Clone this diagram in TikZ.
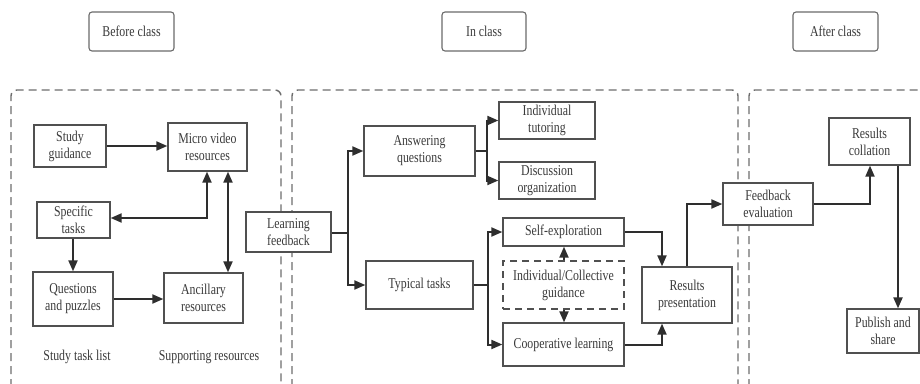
\documentclass[tikz,border=0pt]{standalone}
\usepackage{fontspec}
\setmainfont{Liberation Serif}[FakeStretch=0.79]
\usetikzlibrary{arrows.meta}
\definecolor{txt}{HTML}{3A3A3A}
\definecolor{boxc}{HTML}{505050}
\definecolor{arr}{HTML}{2E2E2E}
\definecolor{dashc}{HTML}{6E6E6E}
\tikzset{
  box/.style={draw=boxc, line width=1.3pt, fill=white, text=txt, align=center,
    inner sep=0pt, font=\fontsize{15}{17}\selectfont},
  hdr/.style={box, rounded corners=3pt, draw=boxc!85, line width=1.1pt},
  dbox/.style={box, dashed, dash pattern=on 7pt off 5pt},
  lbl/.style={text=txt, font=\fontsize{15}{17}\selectfont, inner sep=0pt},
  con/.style={draw=arr, line width=2pt},
  arw/.style={con, -{Triangle[length=11pt,width=9pt]}},
  darw/.style={con, {Triangle[length=11pt,width=9pt]}-{Triangle[length=11pt,width=9pt]}},
  region/.style={draw=dashc, line width=1.4pt, dash pattern=on 8pt off 5pt, rounded corners=6pt}
}
% box by corners: x1,x2,y1,y2
\newcommand{\bx}[7][box]{\node[#1, minimum width=#4pt-#3pt, minimum height=#6pt-#5pt] (#2) at ({(#3+#4)/2},{(#5+#6)/2}) {#7};}
\begin{document}
\begin{tikzpicture}[x=1pt,y=-1pt]
\useasboundingbox[fill=white] (0,0) rectangle (920,383);
\begin{scope}
\clip (0,0) rectangle (920,383);
\draw[region] (11,400) -- (11,90) -- (281,90) -- (281,400);
\draw[region] (292,400) -- (292,90) -- (738,90) -- (738,400);
\draw[region] (749,400) -- (749,90) -- (940,90);
\end{scope}
% headers
\bx[hdr]{before}{89}{174}{12}{51}{Before class}
\bx[hdr]{inclass}{442}{526}{12}{51}{In class}
\bx[hdr]{after}{793}{878}{12}{51}{After class}
% before class
\bx{studyg}{34}{106}{125}{167}{Study\\guidance}
\bx{micro}{168}{247}{123}{171}{Micro video\\resources}
\bx{specific}{37}{110}{202}{238}{Specific\\tasks}
\bx{questions}{33}{113}{272}{326}{Questions\\and puzzles}
\bx{ancillary}{164}{243}{273}{323}{Ancillary\\resources}
\node[lbl] (tasklist) at (77,357) {Study task list};
\node[lbl] (supres) at (209,357) {Supporting resources};
% in class
\bx{learning}{246}{331}{212}{252}{Learning\\feedback}
\bx{answering}{364}{475}{126}{176}{Answering\\questions}
\bx{tutoring}{499}{595}{102}{139}{Individual\\tutoring}
\bx{discussion}{499}{595}{162}{199}{Discussion\\organization}
\bx{typical}{366}{473}{261}{309}{Typical tasks}
\bx{selfex}{503}{624}{218}{246}{Self-exploration}
\bx[dbox]{guidance}{503}{624}{261}{309}{Individual/Collective\\guidance}
\bx{coop}{503}{624}{323}{366}{Cooperative learning}
\bx{results}{642}{732}{267}{323}{Results\\presentation}
% after class
\bx{feedback}{723}{813}{183}{225}{Feedback\\evaluation}
\bx{collation}{829}{910}{118}{165}{Results\\collation}
\bx{publish}{847}{919}{309}{353}{Publish and\\share}
% connectors
\draw[arw] (studyg.east) -- (micro.west |- studyg.east);
\draw[darw] (specific.east |- 0,218) -| (micro.south -| 207,0);
\draw[darw] (micro.south -| 228,0) -- (ancillary.north -| 228,0);
\draw[arw] (specific.south -| 73,0) -- (questions.north -| 73,0);
\draw[arw] (questions.east |- 0,299) -- (ancillary.west |- 0,299);
\coordinate (lfj) at (348,233);
\draw[con] (learning.east |- lfj) -- (lfj);
\draw[arw] (lfj) |- (answering.west);
\draw[arw] (lfj) |- (typical.west);
\coordinate (aqj) at (487,151);
\draw[con] (answering.east |- aqj) -- (aqj);
\draw[arw] (aqj) |- (tutoring.west);
\draw[arw] (aqj) |- (discussion.west);
\coordinate (ttj) at (488,285);
\draw[con] (typical.east |- ttj) -- (ttj);
\draw[arw] (ttj) |- (selfex.west);
\draw[arw] (ttj) |- (coop.west);
\draw[arw] (guidance.north -| 564,0) -- (selfex.south -| 564,0);
\draw[arw] (guidance.south -| 564,0) -- (coop.north -| 564,0);
\draw[arw] (selfex.east) -| (results.north -| 662,0);
\draw[arw] (coop.east) -| (results.south -| 662,0);
\draw[arw] (results.north -| 687,0) |- (feedback.west);
\draw[arw] (feedback.east) -| (collation.south -| 870,0);
\draw[arw] (collation.south -| 898,0) -- (publish.north -| 898,0);
\end{tikzpicture}
\end{document}
